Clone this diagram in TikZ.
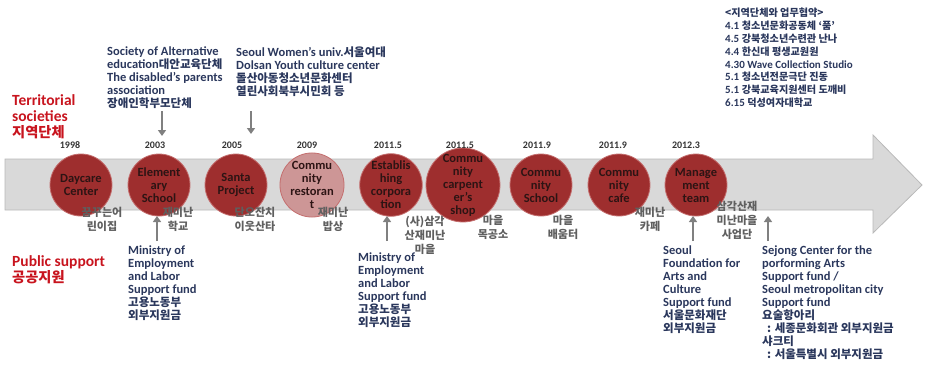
\documentclass[tikz,border=0pt]{standalone}
\usepackage{fontspec}
\setmainfont{Carlito}
\newfontfamily\kr[Scale=0.92]{Noto Sans CJK KR}
\usetikzlibrary{arrows.meta,positioning}
\definecolor{circred}{RGB}{158,46,46}
\definecolor{circedge}{RGB}{196,110,110}
\definecolor{circpale}{RGB}{205,150,150}
\definecolor{circtext}{RGB}{45,20,20}
\definecolor{bandgray}{RGB}{217,217,217}
\definecolor{bandedge}{RGB}{185,185,185}
\definecolor{navytext}{RGB}{42,55,92}
\definecolor{korgray}{RGB}{95,95,95}
\definecolor{sidered}{RGB}{200,20,30}
\definecolor{arrowgray}{RGB}{128,128,128}
\newcommand{\ko}[1]{{\kr #1}}

\begin{document}
\begin{tikzpicture}[x=1pt,y=-1pt,
    event/.style={circle, minimum size=62pt, inner sep=0pt, fill=circred, draw=circedge,
      line width=0.8pt, align=center, text=circtext,
      font=\bfseries\fontsize{12.5}{13}\selectfont},
    yearlbl/.style={text=black!80, font=\bfseries\fontsize{10}{11}\selectfont},
    korlbl/.style={align=center, text=korgray, inner sep=0pt,
      font=\kr\bfseries\fontsize{12}{14}\selectfont},
    info/.style={align=left, anchor=north west, inner sep=0pt, text=navytext,
      font=\bfseries\fontsize{12.5}{13}\selectfont},
    sidelbl/.style={align=left, anchor=north west, inner sep=0pt, text=sidered,
      font=\bfseries\fontsize{15.5}{16}\selectfont},
    support/.style={draw=arrowgray, line width=2.5pt, -{Triangle[width=8pt,length=6pt]}}]
  \useasboundingbox (0,0) rectangle (927,369);

  % time band
  \filldraw[fill=bandgray, draw=bandedge, line width=0.8pt]
    (5,159) -- (873,159) -- (873,135) -- (922,185) -- (873,233) -- (873,210) -- (5,210) -- cycle;

  % events
  \node[event] (daycare) at (81,185) {Daycare\\Center};
  \node[event] (elem) at (159,185) {Element\\ary\\School};
  \node[event] (santa) at (236,185) {Santa\\Project};
  \node[event, fill=circpale] (restor) at (312,185) {Commu\\nity\\restoran\\t};
  \node[event] (corp) at (391,185) {Establis\\hing\\corpora\\tion};
  \node[event] (carp) at (463,185) {Commu\\nity\\carpent\\er’s\\shop};
  \node[event] (school) at (541,185) {Commu\\nity\\School};
  \node[event] (cafe) at (619,185) {Commu\\nity\\cafe};
  \node[event] (mgmt) at (696,185) {Manage\\ment\\team};

  % years
  \node[yearlbl] at (70,145) {1998};
  \node[yearlbl] at (155,145) {2003};
  \node[yearlbl] at (232,145) {2005};
  \node[yearlbl] at (307,145) {2009};
  \node[yearlbl] at (388,145) {2011.5};
  \node[yearlbl] at (460,145) {2011.5};
  \node[yearlbl] at (537,145) {2011.9};
  \node[yearlbl] at (613,145) {2011.9};
  \node[yearlbl] at (686,145) {2012.3};

  % korean names
  \node[korlbl] (daycareko) at (102,219) {꿈꾸는어\\린이집};
  \node[korlbl] (elemko) at (178,219) {재미난\\학교};
  \node[korlbl] (santako) at (255,219) {단오잔치\\이웃산타};
  \node[korlbl] (restorko) at (333,219) {재미난\\밥상};
  \node[korlbl] (corpko) at (425,235) {(사)삼각\\산재미난\\마을};
  \node[korlbl] (carpko) at (493,227) {마을\\목공소};
  \node[korlbl] (schoolko) at (563,227) {마을\\배움터};
  \node[korlbl] (cafeko) at (650,219) {재미난\\카페};
  \node[korlbl] (mgmtko) at (737,220) {삼각산재\\미난마을\\사업단};

  % side labels
  \node[sidelbl] (terr) at (12,94) {Territorial\\societies\\\ko{지역단체}};
  \node[sidelbl] (public) at (12,255) {Public support\\\ko{공공지원}};

  % territorial societies
  \node[info] (alt) at (107,47) {Society of Alternative\\education\ko{대안교육단체}\\The disabled’s parents\\association\\\ko{장애인학부모단체}};
  \node[info] (women) at (236,47) {Seoul Women’s univ.\ko{서울여대}\\Dolsan Youth culture center\\\ko{돌산아동청소년문화센터}\\\ko{열린사회북부시민회 등}};
  \node[info, font=\bfseries\fontsize{11}{12.8}\selectfont] (mou) at (725,8)
    {\ko{<지역단체와 업무협약>}\\4.1 \ko{청소년문화공동체 ‘품’}\\4.5 \ko{강북청소년수련관 난나}\\4.4 \ko{한신대 평생교원원}\\4.30 Wave Collection Studio\\5.1 \ko{청소년전문극단 진동}\\5.1 \ko{강북교육지원센터 도깨비}\\6.15 \ko{덕성여자대학교}};

  % public support
  \node[info] (mol1) at (128,246) {Ministry of\\Employment\\and Labor\\Support fund\\\ko{고용노동부}\\\ko{외부지원금}};
  \node[info] (mol2) at (358,253) {Ministry of\\Employment\\and Labor\\Support fund\\\ko{고용노동부}\\\ko{외부지원금}};
  \node[info] (sfac) at (663,246) {Seoul\\Foundation for\\Arts and\\Culture\\Support fund\\\ko{서울문화재단}\\\ko{외부지원금}};
  \node[info] (sejong) at (762,246) {Sejong Center for the\\porforming Arts\\Support fund /\\Seoul metropolitan city\\Support fund\\\ko{요술항아리}\\\hspace{5pt}\ko{: 세종문화회관 외부지원금}\\\ko{샤크티}\\\hspace{5pt}\ko{: 서울특별시 외부지원금}};

  % arrows
  \coordinate (altend) at (162,136);
  \coordinate (womenend) at (251,134);
  \coordinate (mol1end) at (157,216);
  \coordinate (mol2end) at (387,216);
  \coordinate (sfacend) at (693,216);
  \coordinate (sejongend) at (768,216);
  \draw[support] (alt.south -| altend) ++(0,2) -- (altend);
  \draw[support] (women.south -| womenend) ++(0,14) -- (womenend);
  \draw[support] (mol1.north -| mol1end) ++(0,-5) -- (mol1end);
  \draw[support] (mol2.north -| mol2end) ++(0,-12) -- (mol2end);
  \draw[support] (sfac.north -| sfacend) ++(0,-5) -- (sfacend);
  \draw[support] (sejong.north -| sejongend) ++(0,-5) -- (sejongend);
\end{tikzpicture}
\end{document}
